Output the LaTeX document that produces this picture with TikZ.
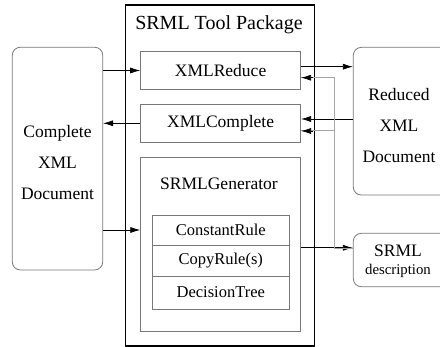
\documentclass[tikz,border=0pt]{standalone}
\usepackage{fontspec}
\setmainfont{Liberation Serif}
\usetikzlibrary{arrows.meta,calc}
\definecolor{boxgray}{RGB}{120,120,120}
\definecolor{linegray}{RGB}{165,165,165}
\begin{document}
\begin{tikzpicture}[x=1pt,y=-1pt,
  box/.style={draw=boxgray,line width=0.8pt,rectangle,inner sep=0pt},
  rbox/.style={box,rounded corners=8pt},
  txt/.style={inner sep=0pt,align=center,font=\fontsize{17.5}{31}\selectfont},
  arr/.style={draw=black,line width=0.7pt,-{Latex[length=10pt,width=6pt,fill=black]}},
  tip/.style={draw=black,line width=0.7pt,-{Latex[length=10pt,width=6pt,fill=black]}}]
\clip (0,0) rectangle (440,347);
\fill[white] (0,0) rectangle (440,347);
% outer package
\node[draw=black,line width=1.3pt,minimum width=189.4pt,minimum height=341pt,inner sep=0pt] (pkg) at (220,175.5) {};
\node[inner sep=0pt,font=\fontsize{20}{24}\selectfont] (title) at (219,25) {SRML Tool Package};
% inner boxes
\node[box,minimum width=160pt,minimum height=37.6pt] (red) at (220.6,70.5) {};
\node[txt] (redt) at (220.6,70.5) {XMLReduce};
\node[box,minimum width=160pt,minimum height=38pt] (comp) at (220.6,123.3) {};
\node[txt] (compt) at (220.6,123.3) {XMLComplete};
\node[box,minimum width=160pt,minimum height=174.4pt] (gen) at (220.7,244.5) {};
\node[txt] (gent) at (219,183.3) {SRMLGenerator};
% table rows
\node[box,minimum width=137pt,minimum height=30pt,font=\fontsize{16.5}{20}\selectfont] (cr) at (220.8,230) {ConstantRule};
\node[box,minimum width=137pt,minimum height=31pt,font=\fontsize{16.5}{20}\selectfont] (cp) at (220.8,260.5) {CopyRule(s)};
\node[box,minimum width=137pt,minimum height=33pt,font=\fontsize{16.5}{20}\selectfont] (dt) at (220.8,292.5) {DecisionTree};
% left document
\node[rbox,minimum width=90.4pt,minimum height=222.7pt] (ldoc) at (57.5,158.6) {};
\node[txt] (ldoct) at (57.5,162.5) {Complete\\XML\\Document};
% right documents
\node[rbox,minimum width=110pt,minimum height=147.7pt] (rdoc) at (408.3,121.2) {};
\node[txt] (rdoct) at (399,125.5) {Reduced\\XML\\Document};
\node[rbox,minimum width=110pt,minimum height=53.4pt] (desc) at (408.3,260) {};
\node[inner sep=0pt,font=\fontsize{17.5}{20}\selectfont] (desct1) at (398,251) {SRML};
\node[inner sep=0pt,font=\fontsize{14.8}{18}\selectfont] (desct2) at (398,271) {description};
% connectors
\draw[arr] (ldoc.east |- red.west) -- (red.west);
\draw[arr] (comp.west) -- (comp.west -| ldoc.east);
\draw[arr] (ldoc.east |- cr) -- (gen.west |- cr);
\coordinate (a1) at ([yshift=3.8pt]red.east);
\draw[arr] (a1) -- (a1 -| rdoc.west);
\coordinate (a2) at ([yshift=4.3pt]comp.east);
\draw[arr] (a2 -| rdoc.west) -- (a2);
\coordinate (a3) at ([yshift=-3.3pt]gen.east);
\draw[arr] (a3) -- (a3 -| desc.west);
% gray feedback
\coordinate (g0) at ([yshift=11.7pt]desc.west);
\coordinate (g1) at ($(g0)+(-18.3,0)$);
\coordinate (g2) at ([yshift=-7.2pt]red.east);
\coordinate (g3) at ([yshift=-7.7pt]comp.east);
\draw[linegray,line width=1pt] (g0) -- (g1) -- (g1 |- g2) -- (g2);
\draw[linegray,line width=1pt] (g1 |- g3) -- (g3);
\draw[tip] ($(g2)+(12,0)$) -- (g2);
\draw[tip] ($(g3)+(12,0)$) -- (g3);
\end{tikzpicture}
\end{document}
